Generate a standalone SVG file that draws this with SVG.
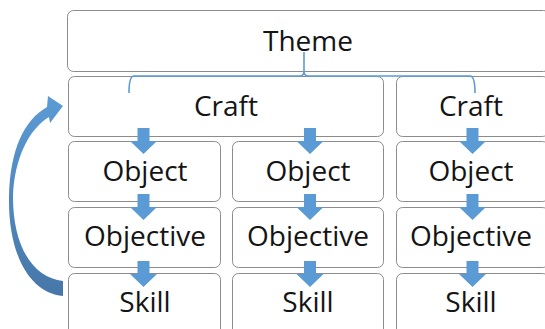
<svg xmlns="http://www.w3.org/2000/svg" width="545" height="329" viewBox="0 0 545 329">
<style>
.box{fill:#ffffff;stroke:#8c8c8c;stroke-width:1}
.lbl{font-family:"Open Sans","Liberation Sans",sans-serif;font-size:28px;fill:#141414;text-anchor:middle}
.arr{fill:#5b9bd5}
.brk{fill:none;stroke:#5b9bd5;stroke-width:1.6}
</style>
<defs>
<linearGradient id="cg" x1="0" y1="0" x2="0" y2="1">
<stop offset="0" stop-color="#5b9bd5"/>
<stop offset="1" stop-color="#4677a8"/>
</linearGradient>
<path id="da" d="M-6 0 H6 V13 H13.5 L0 26 L-13.5 13 H-6 Z"/>
</defs>
<rect width="545" height="329" fill="#ffffff"/>
<g id="theme"><rect class="box" x="67.5" y="10.5" width="482" height="61" rx="6"/><text class="lbl" x="308" y="51">Theme</text></g>
<g id="craft1"><rect class="box" x="68.5" y="76.5" width="315" height="60" rx="6"/><text class="lbl" x="226" y="116">Craft</text></g>
<g id="craft2"><rect class="box" x="396.5" y="76.5" width="152" height="60" rx="6"/><text class="lbl" x="471" y="116">Craft</text></g>
<g id="object1"><rect class="box" x="68.5" y="141.5" width="152" height="60" rx="6"/><text class="lbl" x="145" y="181">Object</text></g>
<g id="object2"><rect class="box" x="232.5" y="141.5" width="151" height="60" rx="6"/><text class="lbl" x="308" y="181">Object</text></g>
<g id="object3"><rect class="box" x="396.5" y="141.5" width="152" height="60" rx="6"/><text class="lbl" x="471" y="181">Object</text></g>
<g id="objective1"><rect class="box" x="68.5" y="207.5" width="152" height="60" rx="6"/><text class="lbl" x="145" y="246">Objective</text></g>
<g id="objective2"><rect class="box" x="232.5" y="207.5" width="151" height="60" rx="6"/><text class="lbl" x="308" y="246">Objective</text></g>
<g id="objective3"><rect class="box" x="396.5" y="207.5" width="152" height="60" rx="6"/><text class="lbl" x="471" y="246">Objective</text></g>
<g id="skill1"><rect class="box" x="68.5" y="273.5" width="152" height="70" rx="6"/><text class="lbl" x="145" y="312">Skill</text></g>
<g id="skill2"><rect class="box" x="232.5" y="273.5" width="151" height="70" rx="6"/><text class="lbl" x="308" y="312">Skill</text></g>
<g id="skill3"><rect class="box" x="396.5" y="273.5" width="152" height="70" rx="6"/><text class="lbl" x="471" y="312">Skill</text></g>
<g id="connectors">
<path class="brk" d="M129 93 Q129 76 134 76 H300 Q304 76 304 71 V52 M304 71 Q304 76 308 76 H470 Q475 76 475 93"/>
<use href="#da" class="arr" x="143.5" y="128"/>
<use href="#da" class="arr" x="310" y="128"/>
<use href="#da" class="arr" x="472.5" y="128"/>
<use href="#da" class="arr" x="143.5" y="194"/>
<use href="#da" class="arr" x="310" y="194"/>
<use href="#da" class="arr" x="472.5" y="194"/>
<use href="#da" class="arr" x="143.5" y="261"/>
<use href="#da" class="arr" x="310" y="261"/>
<use href="#da" class="arr" x="472.5" y="261"/>
<path fill="url(#cg)" d="M63 296 C30 293 8 255 9 197 C10 150 24 120 47 107 L48 96 L63 106 L50 123 L49 117 C30 128 14 158 13 197 C13 248 34 278 63 281 Z"/>
</g>
</svg>
